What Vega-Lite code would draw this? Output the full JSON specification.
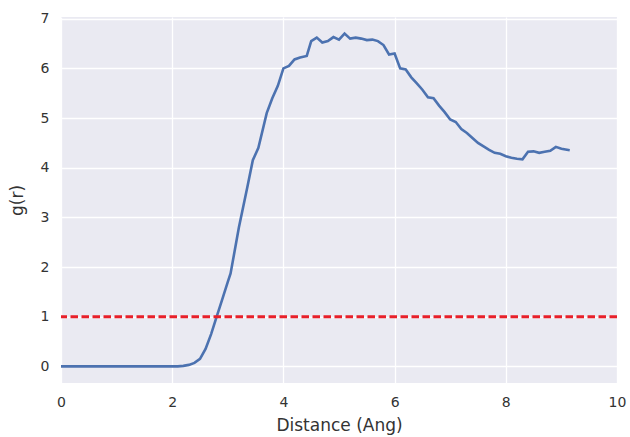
{
  "$schema": "https://vega.github.io/schema/vega-lite/v6.json",
  "width": 556,
  "height": 366,
  "autosize": {"type": "none"},
  "padding": {"left": 61, "top": 17, "right": 13, "bottom": 54},
  "background": "white",
  "config": {
    "view": {"fill": "#EAEAF2", "stroke": null},
    "axis": {
      "domain": false,
      "ticks": false,
      "gridColor": "white",
      "gridWidth": 1.3,
      "labelColor": "#333333",
      "labelFont": "DejaVu Sans",
      "labelFontSize": 14,
      "titleFont": "DejaVu Sans",
      "titleFontSize": 17,
      "titleFontWeight": "normal",
      "titleColor": "#333333"
    }
  },
  "datasets": {
    "gr": [
      {"r": 0.0, "g": 0.0}, {"r": 0.5, "g": 0.0}, {"r": 1.0, "g": 0.0}, {"r": 1.5, "g": 0.0},
      {"r": 2.0, "g": 0.0}, {"r": 2.1, "g": 0.0}, {"r": 2.2, "g": 0.01}, {"r": 2.3, "g": 0.03},
      {"r": 2.4, "g": 0.07}, {"r": 2.5, "g": 0.15}, {"r": 2.6, "g": 0.35}, {"r": 2.7, "g": 0.65},
      {"r": 2.8, "g": 1.0}, {"r": 2.9, "g": 1.35}, {"r": 3.0, "g": 1.7}, {"r": 3.05, "g": 1.87},
      {"r": 3.2, "g": 2.8}, {"r": 3.35, "g": 3.6}, {"r": 3.45, "g": 4.15}, {"r": 3.55, "g": 4.4},
      {"r": 3.7, "g": 5.1}, {"r": 3.8, "g": 5.4}, {"r": 3.9, "g": 5.65}, {"r": 4.0, "g": 6.0},
      {"r": 4.1, "g": 6.05}, {"r": 4.2, "g": 6.18}, {"r": 4.3, "g": 6.22}, {"r": 4.42, "g": 6.25},
      {"r": 4.5, "g": 6.55}, {"r": 4.6, "g": 6.62}, {"r": 4.7, "g": 6.52}, {"r": 4.8, "g": 6.55},
      {"r": 4.9, "g": 6.63}, {"r": 5.0, "g": 6.58}, {"r": 5.1, "g": 6.7}, {"r": 5.2, "g": 6.6},
      {"r": 5.3, "g": 6.62}, {"r": 5.4, "g": 6.6}, {"r": 5.5, "g": 6.57}, {"r": 5.6, "g": 6.58},
      {"r": 5.7, "g": 6.55}, {"r": 5.8, "g": 6.47}, {"r": 5.9, "g": 6.28}, {"r": 6.0, "g": 6.3},
      {"r": 6.1, "g": 6.0}, {"r": 6.2, "g": 5.98}, {"r": 6.3, "g": 5.82}, {"r": 6.4, "g": 5.7},
      {"r": 6.5, "g": 5.57}, {"r": 6.6, "g": 5.42}, {"r": 6.7, "g": 5.4}, {"r": 6.8, "g": 5.25},
      {"r": 6.9, "g": 5.12}, {"r": 7.0, "g": 4.97}, {"r": 7.1, "g": 4.92}, {"r": 7.2, "g": 4.78},
      {"r": 7.3, "g": 4.7}, {"r": 7.4, "g": 4.6}, {"r": 7.5, "g": 4.5}, {"r": 7.6, "g": 4.43},
      {"r": 7.7, "g": 4.36}, {"r": 7.8, "g": 4.3}, {"r": 7.9, "g": 4.28}, {"r": 8.0, "g": 4.23},
      {"r": 8.1, "g": 4.2}, {"r": 8.2, "g": 4.18}, {"r": 8.3, "g": 4.17}, {"r": 8.4, "g": 4.32},
      {"r": 8.5, "g": 4.33}, {"r": 8.6, "g": 4.3}, {"r": 8.7, "g": 4.32}, {"r": 8.8, "g": 4.34},
      {"r": 8.9, "g": 4.42}, {"r": 9.0, "g": 4.38}, {"r": 9.15, "g": 4.35}
    ],
    "ref": [{"g": 1}]
  },
  "layer": [
    {
      "data": {"name": "gr"},
      "mark": {"type": "line", "color": "#4C72B0", "strokeWidth": 2.6, "clip": true},
      "encoding": {
        "x": {
          "field": "r", "type": "quantitative",
          "scale": {"domain": [0, 10], "nice": false, "zero": false},
          "axis": {"title": "Distance (Ang)", "values": [0, 2, 4, 6, 8, 10], "labelPadding": 12, "titlePadding": 8, "labelFlush": false}
        },
        "y": {
          "field": "g", "type": "quantitative",
          "scale": {"domain": [-0.335, 7.035], "nice": false, "zero": false},
          "axis": {"title": "g(r)", "values": [0, 1, 2, 3, 4, 5, 6, 7], "labelPadding": 12, "titlePadding": 14}
        }
      }
    },
    {
      "data": {"name": "ref"},
      "mark": {"type": "rule", "color": "#E8202A", "strokeWidth": 3, "strokeDash": [7.5, 3.5]},
      "encoding": {
        "y": {"field": "g", "type": "quantitative"}
      }
    }
  ]
}
